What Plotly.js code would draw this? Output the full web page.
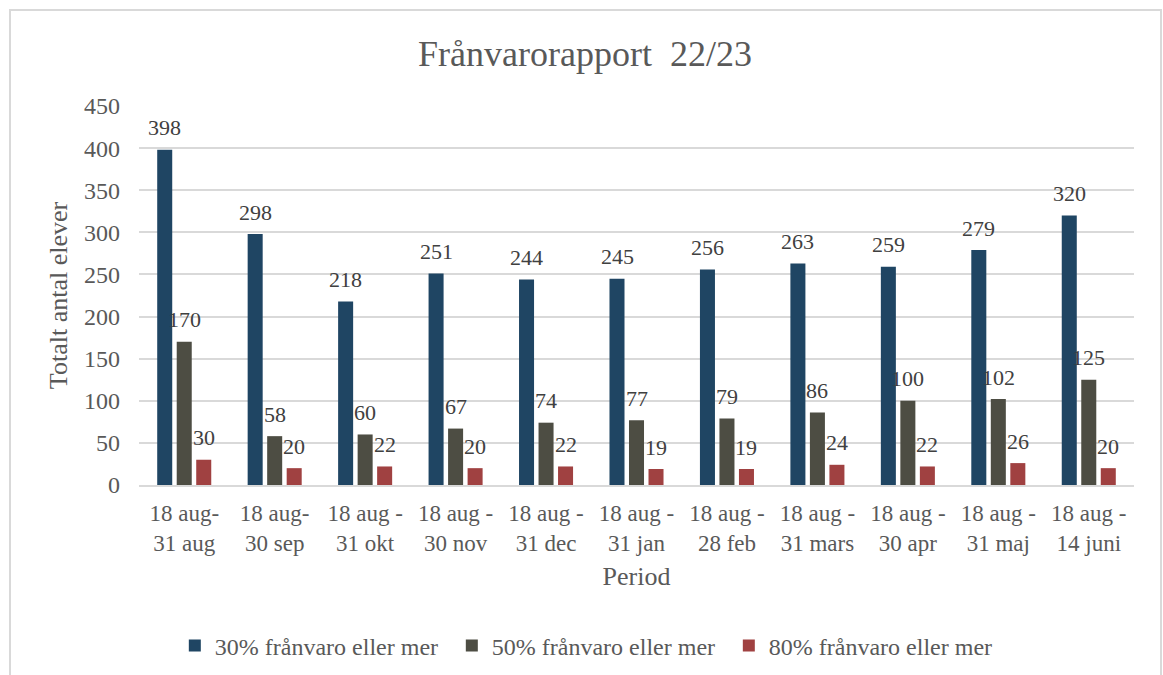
<!DOCTYPE html>
<html>
<head>
<meta charset="utf-8">
<script src="https://cdn.plot.ly/plotly-3.0.1.min.js"></script>
<style>
html,body{margin:0;padding:0;background:#fff;}
#frame{position:absolute;left:9px;top:9px;width:1153px;height:700px;border:2px solid #d9d9d9;box-sizing:border-box;}
#chart{position:absolute;left:0;top:0;width:1163px;height:675px;}
</style>
</head>
<body>
<div id="frame"></div>
<div id="chart"></div>
<script>
const categories = [
  "18 aug-<br>31 aug", "18 aug-<br>30 sep", "18 aug -<br>31 okt", "18 aug -<br>30 nov",
  "18 aug -<br>31 dec", "18 aug -<br>31 jan", "18 aug -<br>28 feb", "18 aug -<br>31 mars",
  "18 aug -<br>30 apr", "18 aug -<br>31 maj", "18 aug -<br>14 juni"
];
const seriesNames = ["30% frånvaro eller mer", "50% frånvaro eller mer", "80% frånvaro eller mer"];
const values30 = [398, 298, 218, 251, 244, 245, 256, 263, 259, 279, 320];
const values50 = [170, 58, 60, 67, 74, 77, 79, 86, 100, 102, 125];
const values80 = [30, 20, 22, 20, 22, 19, 19, 24, 22, 26, 20];
const yTicks = [0, 50, 100, 150, 200, 250, 300, 350, 400, 450];
const colors = ["#1F4563", "#4D4D43", "#A04141"];

const serif = "'Liberation Serif', 'Times New Roman', serif";
const allValues = [values30, values50, values80];
const traces = allValues.map((v, i) => ({
  type: "bar",
  name: seriesNames[i],
  x: categories,
  y: v,
  marker: {color: colors[i]},
  hoverinfo: "x+y+name"
}));

// data labels placed above each bar (offset matches the bar slot width)
const slotPx = 19.5;
const annotations = [];
allValues.forEach((v, i) => {
  v.forEach((val, j) => {
    annotations.push({
      x: categories[j], y: val, xref: "x", yref: "y",
      text: String(val), showarrow: false,
      xshift: (i - 1) * slotPx, yshift: 22,
      xanchor: "center", yanchor: "middle",
      font: {family: serif, size: 22, color: "#404040"}
    });
  });
});

const layout = {
  width: 1163, height: 675,
  margin: {l: 139, r: 29, t: 106, b: 190, pad: 0},
  paper_bgcolor: "rgba(0,0,0,0)",
  plot_bgcolor: "rgba(0,0,0,0)",
  barmode: "group",
  bargap: 0.353,
  bargroupgap: 0.23,
  title: {
    text: "Frånvarorapport\u00a0 22/23",
    font: {family: serif, size: 36, color: "#595959"},
    x: 0.503, xanchor: "center", xref: "container",
    y: 0.921, yanchor: "middle", yref: "container"
  },
  font: {family: serif, size: 23, color: "#595959"},
  annotations: annotations,
  xaxis: {
    type: "category",
    showgrid: false,
    showline: true, linecolor: "#d9d9d9", linewidth: 2,
    ticks: "",
    ticklabelstandoff: 6,
    tickfont: {family: serif, size: 23, color: "#595959"},
    title: {text: "Period", font: {family: serif, size: 26, color: "#595959"}, standoff: 12}
  },
  yaxis: {
    range: [0, 450],
    tickvals: yTicks,
    showgrid: true, gridcolor: "#d9d9d9", gridwidth: 2,
    zeroline: false, showline: false,
    ticks: "",
    ticklabelstandoff: 18,
    tickfont: {family: serif, size: 24, color: "#595959"},
    title: {text: "Totalt antal elever", font: {family: serif, size: 26, color: "#595959"}, standoff: 8}
  },
  legend: {
    orientation: "h",
    x: 0.036, xanchor: "left",
    y: 0.043, yref: "container", yanchor: "middle",
    font: {family: serif, size: 24, color: "#595959"},
    entrywidth: 232, entrywidthmode: "pixels",
    traceorder: "normal"
  },
  showlegend: true
};

Plotly.newPlot("chart", traces, layout, {displayModeBar: false, staticPlot: true});
</script>
</body>
</html>
